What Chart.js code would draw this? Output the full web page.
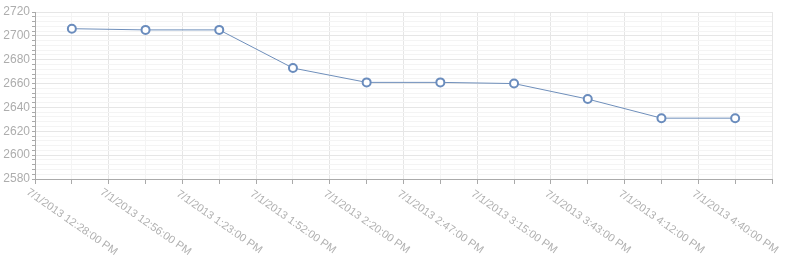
<!DOCTYPE html>
<html>
<head>
<meta charset="utf-8">
<script src="https://cdn.jsdelivr.net/npm/chart.js@4/dist/chart.umd.min.js"></script>
<style>
	html, body { margin: 0; padding: 0; background: #fff; }
</style>
</head>
<body>
<canvas id="myChart" width="785" height="268"></canvas>
<script>
// time labels along the bottom
var timeLabels = [
	"7/1/2013 12:28:00 PM",
	"7/1/2013 12:56:00 PM",
	"7/1/2013 1:23:00 PM",
	"7/1/2013 1:52:00 PM",
	"7/1/2013 2:20:00 PM",
	"7/1/2013 2:47:00 PM",
	"7/1/2013 3:15:00 PM",
	"7/1/2013 3:43:00 PM",
	"7/1/2013 4:12:00 PM",
	"7/1/2013 4:40:00 PM",
];
var values = [2706, 2705, 2705, 2673, 2661, 2661, 2660, 2647, 2631, 2631];
var yMin = 2580;
var yMax = 2720;
var yMajor = 20;
var yMinor = 4;

document.addEventListener("DOMContentLoaded", function () {
	// rotated labels centred under each point
	var xLabels = {
		id: "xLabels",
		afterDraw: function (chart) {
			var ctx = chart.ctx;
			var x = chart.scales.x;
			ctx.save();
			ctx.font = '11px "Liberation Sans", Arial, sans-serif';
			ctx.fillStyle = "#b0b0b0";
			ctx.textAlign = "center";
			ctx.textBaseline = "middle";
			timeLabels.forEach(function (t, i) {
				ctx.save();
				ctx.translate(x.getPixelForValue(i), x.top + 43);
				ctx.rotate((35 * Math.PI) / 180);
				ctx.fillText(t, 0, 0);
				ctx.restore();
			});
			ctx.restore();
		},
	};

	var ctx = document.getElementById("myChart").getContext("2d");
	var myChart = new Chart(ctx, {
		type: "line",
		data: {
			datasets: [
				{
					data: values.map(function (v, i) {
						return { x: i, y: v };
					}),
					borderColor: "#6f8fbb",
					borderWidth: 1,
					tension: 0,
					pointRadius: 4,
					pointBorderWidth: 2,
					pointBackgroundColor: "#ffffff",
					pointBorderColor: "#6a8cbd",
				},
			],
		},
		options: {
			responsive: false,
			animation: false,
			layout: {
				padding: { top: 12, right: 13, left: 0, bottom: 0 },
			},
			plugins: {
				legend: { display: false },
				tooltip: { enabled: false },
			},
			scales: {
				x: {
					type: "linear",
					min: -0.5,
					max: timeLabels.length - 0.5,
					ticks: { stepSize: 0.5, display: false },
					grid: {
						color: function (c) {
							return Number.isInteger(c.tick.value) ? "#f4f4f4" : "#e6e6e6";
						},
						tickColor: "#aaaaaa",
						tickLength: 5,
					},
					border: { color: "#aaaaaa" },
					afterFit: function (scale) {
						scale.height = 89;
					},
				},
				y: {
					min: yMin,
					max: yMax,
					ticks: {
						stepSize: yMinor,
						autoSkip: false,
						padding: 2,
						color: "#adadad",
						font: { family: '"Liberation Sans", Arial, sans-serif', size: 12 },
						callback: function (v) {
							return v % yMajor === 0 ? v : "";
						},
					},
					grid: {
						color: function (c) {
							return c.tick.value % yMajor === 0 ? "#e6e6e6" : "#f4f4f4";
						},
						tickColor: "#aaaaaa",
						tickLength: 3,
					},
					border: { color: "#aaaaaa" },
					afterFit: function (scale) {
						scale.width = 35;
					},
				},
			},
		},
		plugins: [xLabels],
	});
});
</script>
</body>
</html>
